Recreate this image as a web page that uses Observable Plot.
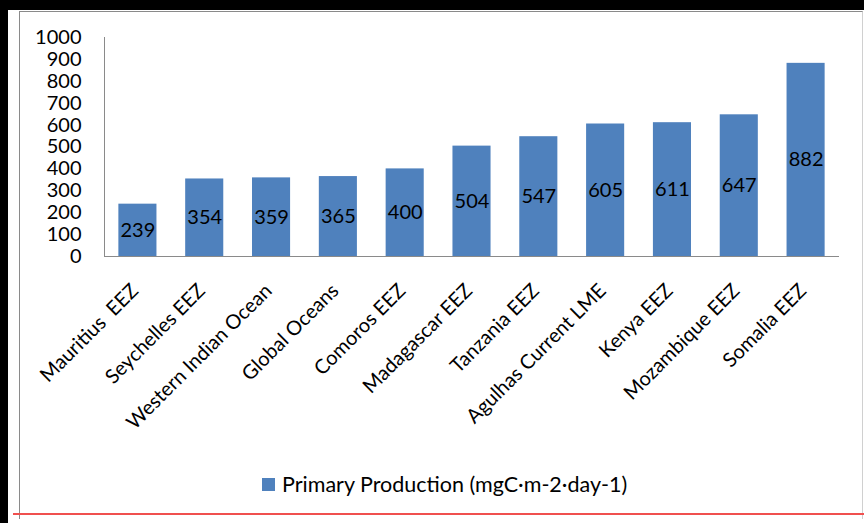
<!DOCTYPE html>
<html>
<head>
<meta charset="utf-8">
<script src="https://cdn.jsdelivr.net/npm/d3@7"></script>
<script src="https://cdn.jsdelivr.net/npm/@observablehq/plot@0.6"></script>
<style>
  html, body { margin: 0; padding: 0; }
  body { width: 864px; height: 523px; background: #000; position: relative; overflow: hidden; font-family: Lato, "Open Sans", sans-serif; }
  #sheet { position: absolute; left: 8px; top: 10px; width: 856px; height: 513px; background: #fff; }
  #panel { position: absolute; left: 19px; top: 11px; width: 844px; height: 508px; border-left: 1px solid #8a8a8a; border-top: 1px solid #8a8a8a; border-right: 1px solid #d0d0d0; box-sizing: border-box; }
  #chart { position: absolute; left: 0; top: 0; }
  #legend { position: absolute; left: 262px; top: 471px; font-size: 21.5px; color: #000; display: flex; align-items: center; white-space: nowrap; }
  #legend .sw { width: 13px; height: 13px; background: #4F81BD; margin-right: 7px; }
  #redline { position: absolute; left: 13px; top: 513px; width: 851px; height: 2px; background: #f0504f; }
</style>
</head>
<body>
<div id="sheet"></div>
<div id="panel"></div>
<div id="chart"></div>
<div id="legend"><div class="sw"></div><span>Primary Production (mgC·m-2·day-1)</span></div>
<div id="redline"></div>
<script>
const categories = ["Mauritius  EEZ", "Seychelles EEZ", "Western Indian Ocean", "Global Oceans", "Comoros EEZ", "Madagascar EEZ", "Tanzania EEZ", "Agulhas Current LME", "Kenya EEZ", "Mozambique EEZ", "Somalia EEZ"];
const values = [239, 354, 359, 365, 400, 504, 547, 605, 611, 647, 882];
const yTicks = [0, 100, 200, 300, 400, 500, 600, 700, 800, 900, 1000];

const data = categories.map((c, i) => ({category: c, value: values[i]}));

const chart = Plot.plot({
  width: 864,
  height: 440,
  marginLeft: 104,
  marginRight: 25,
  marginTop: 37,
  marginBottom: 184,
  style: {fontFamily: "Lato, 'Open Sans', sans-serif", background: "transparent", color: "#000"},
  x: {domain: categories, paddingInner: 0.43, paddingOuter: 0.215, round: false, label: null},
  y: {domain: [0, 1000], label: null},
  marks: [
    Plot.frame({anchor: "left", stroke: "#8a8a8a"}),
    Plot.axisY({ticks: yTicks, tickFormat: d => String(d), tickSize: 0, tickPadding: 23, fontSize: 20, label: null}),
    Plot.axisX({tickSize: 0, tickRotate: -45, tickPadding: 31, dx: -3, fontSize: 20, label: null}),
    Plot.barY(data, {x: "category", y: "value", fill: "#4F81BD"}),
    Plot.ruleY([0], {stroke: "#8a8a8a"}),
    Plot.text(data, {x: "category", y: d => d.value / 2, text: d => String(d.value), fill: "#000", fontSize: 20})
  ]
});
document.getElementById("chart").appendChild(chart);
</script>
</body>
</html>
